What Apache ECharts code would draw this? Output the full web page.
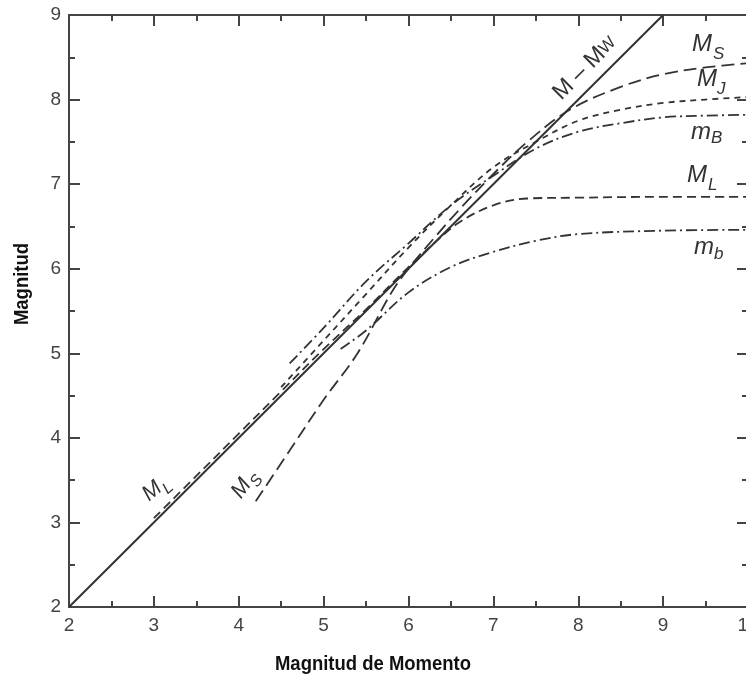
<!DOCTYPE html>
<html>
<head>
<meta charset="utf-8">
<script src="https://cdn.jsdelivr.net/npm/echarts@6/dist/echarts.min.js"></script>
<style>
  html, body { margin: 0; padding: 0; background: #fff; }
  #chart { width: 746px; height: 677px; }
</style>
</head>
<body>
<div id="chart"></div>
<script>
// values
const mwX = [2, 9];
const mwY = [2, 9];

const msX = [4.2, 4.6, 5.0, 5.4, 5.8, 6.0, 6.3, 6.6, 7.0, 7.4, 7.9, 8.5, 9.0, 9.5, 10];
const msY = [3.25, 3.85, 4.45, 5.0, 5.72, 6.0, 6.36, 6.7, 7.12, 7.5, 7.88, 8.15, 8.3, 8.38, 8.43];

const mjX = [4.5, 5.0, 5.5, 6.0, 6.5, 7.0, 7.5, 8.0, 8.5, 9.0, 9.5, 10];
const mjY = [4.6, 5.15, 5.7, 6.25, 6.75, 7.2, 7.5, 7.75, 7.88, 7.96, 8.0, 8.03];

const mBX = [4.6, 5.0, 5.5, 6.0, 6.5, 7.0, 7.5, 8.0, 8.5, 9.0, 9.5, 10];
const mBY = [4.88, 5.3, 5.85, 6.3, 6.75, 7.1, 7.42, 7.62, 7.72, 7.79, 7.81, 7.82];

const mlX = [3.0, 3.5, 4.0, 4.5, 5.0, 5.5, 6.0, 6.3, 6.6, 7.0, 7.4, 8.0, 9.0, 10];
const mlY = [3.05, 3.55, 4.05, 4.55, 5.05, 5.52, 6.02, 6.3, 6.55, 6.75, 6.83, 6.84, 6.85, 6.85];

const mbX = [5.2, 5.5, 6.0, 6.5, 7.0, 7.5, 8.0, 9.0, 10];
const mbY = [5.05, 5.27, 5.72, 6.02, 6.2, 6.33, 6.41, 6.45, 6.46];

const xTicks = { min: 2, max: 10, step: 1 };
const yTicks = { min: 2, max: 9, step: 1 };

const pairs = (xs, ys) => xs.map((x, i) => [x, ys[i]]);

const AXIS = '#444';
const INK = '#333';
const FONT = '"Liberation Sans", Arial, sans-serif';

const axisBase = (extra) => Object.assign({
  type: 'value',
  axisLine: { show: true, onZero: false, lineStyle: { color: AXIS, width: 2 } },
  axisTick: { show: true, inside: true, length: 11, lineStyle: { color: AXIS, width: 2 } },
  minorTick: { show: true, splitNumber: 2, length: 6, lineStyle: { color: AXIS, width: 2 } },
  splitLine: { show: false },
  axisLabel: { show: false }
}, extra);

const curve = (name, xs, ys, dash, width) => ({
  name,
  type: 'line',
  data: pairs(xs, ys),
  smooth: 0.35,
  showSymbol: false,
  symbol: 'none',
  lineStyle: { color: INK, width: width || 1.8, type: dash }
});

// label with a subscript, optionally rotated (radians, counter-clockwise)
const subLabel = (x, y, main, sub, rot, mainSize, subSize, dx, dy) => ({
  type: 'group',
  x, y,
  rotation: rot || 0,
  children: [
    { type: 'text', x: 0, y: 0,
      style: { text: main, font: 'italic ' + mainSize + 'px ' + FONT, fill: INK, textAlign: 'left', textVerticalAlign: 'middle' } },
    { type: 'text', x: dx, y: dy,
      style: { text: sub, font: 'italic ' + subSize + 'px ' + FONT, fill: INK, textAlign: 'left', textVerticalAlign: 'middle' } }
  ]
});

const chart = echarts.init(document.getElementById('chart'));

chart.setOption({
  animation: false,
  backgroundColor: '#fff',
  grid: { left: 69, right: -2, top: 15, bottom: 70, containLabel: false, outerBoundsMode: 'none' },
  xAxis: [
    axisBase({
      min: xTicks.min, max: xTicks.max, interval: xTicks.step, position: 'bottom',
      axisLabel: { show: true, color: AXIS, fontSize: 19, fontFamily: FONT, margin: 9 }
    }),
    axisBase({ min: xTicks.min, max: xTicks.max, interval: xTicks.step, position: 'top' })
  ],
  yAxis: [
    axisBase({
      min: yTicks.min, max: yTicks.max, interval: yTicks.step, position: 'left',
      axisLabel: { show: true, color: AXIS, fontSize: 19, fontFamily: FONT, margin: 8 }
    }),
    axisBase({ min: yTicks.min, max: yTicks.max, interval: yTicks.step, position: 'right' })
  ],
  series: [
    curve('M - Mw', mwX, mwY, 'solid', 2),
    curve('Ms', msX, msY, [13, 6]),
    curve('MJ', mjX, mjY, [6, 5]),
    curve('mB', mBX, mBY, [11, 4, 2, 4]),
    curve('ML', mlX, mlY, [9, 5]),
    curve('mb', mbX, mbY, [11, 4, 2, 4])
  ],
  graphic: [
    { type: 'text', x: 373, y: 664, scaleX: 0.88,
      style: { text: 'Magnitud de Momento', font: 'bold 21px ' + FONT, fill: '#111', textAlign: 'center', textVerticalAlign: 'middle' } },
    { type: 'text', x: 22, y: 284, rotation: Math.PI / 2, scaleX: 0.88,
      style: { text: 'Magnitud', font: 'bold 21px ' + FONT, fill: '#111', textAlign: 'center', textVerticalAlign: 'middle' } },
    // right-hand curve names
    subLabel(692, 44, 'M', 'S', 0, 24, 17, 21, 10),
    subLabel(697, 79, 'M', 'J', 0, 24, 17, 20, 10),
    subLabel(691, 132, 'm', 'B', 0, 24, 17, 20, 6),
    subLabel(687, 175, 'M', 'L', 0, 24, 17, 21, 10),
    subLabel(694, 247, 'm', 'b', 0, 24, 17, 20, 7),
    // names along the curves
    {
      type: 'text', x: 585, y: 68, rotation: Math.PI / 4,
      style: {
        text: 'M – M{w|W}', font: '23px ' + FONT, fill: INK, textAlign: 'center', textVerticalAlign: 'middle',
        rich: { w: { fontSize: 17, fontFamily: 'Liberation Sans', fill: INK } }
      }
    },
    subLabel(236, 496, 'M', 'S', Math.PI * 0.3, 22, 16, 19, 8),
    subLabel(145, 497, 'M', 'L', Math.PI * 0.22, 22, 16, 19, 8)
  ]
});
</script>
</body>
</html>
